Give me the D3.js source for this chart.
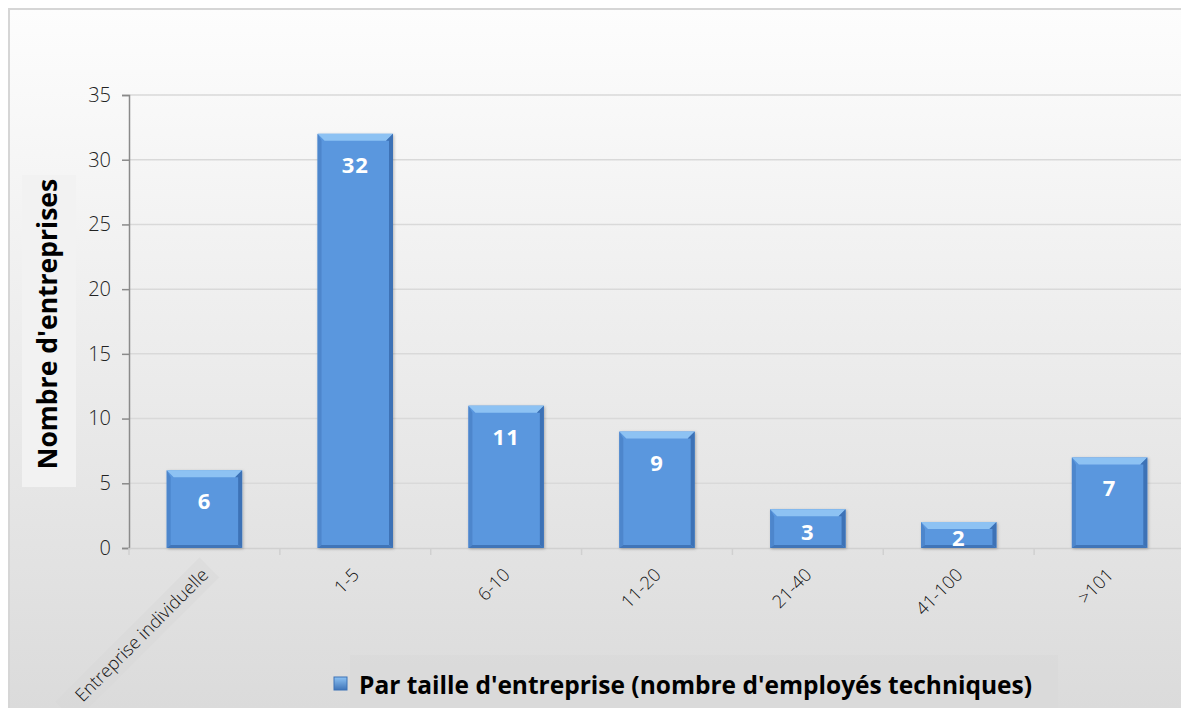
<!DOCTYPE html>
<html>
<head>
<meta charset="utf-8">
<script src="https://cdn.jsdelivr.net/npm/d3@7"></script>
<style>
	body { margin: 0; background: #fff; }
	svg { display: block; }
	text { font-family: "Open Sans", Lato, sans-serif; }
</style>
</head>
<body>
<svg id="chart" width="1181" height="708"></svg>
<script>
var categories = ["Entreprise individuelle", "1-5", "6-10", "11-20", "21-40", "41-100", ">101"];
var values = [6, 32, 11, 9, 3, 2, 7];
var y_ticks = [0, 5, 10, 15, 20, 25, 30, 35];
var series_name = "Par taille d'entreprise (nombre d'employés techniques)";
var y_title = "Nombre d'entreprises";

var svg = d3.select("#chart");
var defs = svg.append("defs");

// background gradient of the chart area
var bg = defs.append("linearGradient").attr("id", "bg_grad")
	.attr("x1", 0).attr("y1", 0).attr("x2", 0).attr("y2", 1);
bg.append("stop").attr("offset", "0%").attr("stop-color", "#fdfdfd");
bg.append("stop").attr("offset", "100%").attr("stop-color", "#dadada");

var shadow = defs.append("filter").attr("id", "shadow")
	.attr("x", "-20%").attr("y", "-20%").attr("width", "140%").attr("height", "140%");
shadow.append("feDropShadow").attr("dx", 1).attr("dy", 1).attr("stdDeviation", 1.5)
	.attr("flood-color", "#000").attr("flood-opacity", 0.25);

svg.append("rect")
	.attr("x", 9).attr("y", 9).attr("width", 1200).attr("height", 720)
	.attr("fill", "url(#bg_grad)")
	.attr("stroke", "#d6d6d6").attr("stroke-width", 2);

var x = d3.scaleBand().domain(categories).range([129, 1185]).paddingInner(0.5).paddingOuter(0.25);
var y = d3.scaleLinear().domain([0, 35]).range([548, 95]);

// gridlines
svg.append("g").selectAll("line").data(y_ticks.slice(1)).enter()
	.append("line")
	.attr("x1", 129).attr("x2", 1181)
	.attr("y1", function(d){ return y(d); })
	.attr("y2", function(d){ return y(d); })
	.attr("stroke", "#d9d9d9").attr("stroke-width", 1.5);

// y axis
var y_axis = svg.append("g").attr("transform", "translate(129,0)")
	.call(d3.axisLeft(y).tickValues(y_ticks).tickSize(7).tickPadding(11));
y_axis.select(".domain").attr("stroke", "#8a8a8a").attr("stroke-width", 1.5);
y_axis.selectAll(".tick line").attr("stroke", "#8a8a8a").attr("stroke-width", 1.5);
y_axis.selectAll(".tick text")
	.attr("font-family", "'Open Sans', sans-serif").attr("font-weight", 300)
	.attr("font-size", 20).attr("fill", "#222");

// x axis
var x_axis = svg.append("g").attr("transform", "translate(0,548)")
	.call(d3.axisBottom(x).tickSize(0).tickPadding(0));
x_axis.select(".domain").attr("stroke", "#d0d0d0").attr("stroke-width", 1.5);
x_axis.selectAll(".tick text").remove();

// small tick marks between categories
svg.append("g").selectAll("line").data(categories).enter()
	.append("line")
	.attr("x1", function(d){ return x(d) - x.step() * 0.25; })
	.attr("x2", function(d){ return x(d) - x.step() * 0.25; })
	.attr("y1", 548).attr("y2", 555)
	.attr("stroke", "#d0d0d0").attr("stroke-width", 1.5);

// rotated category labels
var cat_labels = svg.append("g").selectAll("g").data(categories).enter()
	.append("g")
	.attr("transform", function(d){
		return "translate(" + (x(d) + x.bandwidth() / 2 + 5) + ",576) rotate(-45)";
	});
cat_labels.filter(function(d, i){ return i == 0; })
	.append("rect")
	.attr("x", -198).attr("y", -20).attr("width", 204).attr("height", 28)
	.attr("fill", "#d8d8d8").attr("opacity", 0.45);
cat_labels.append("text")
	.attr("text-anchor", "end")
	.attr("font-weight", 300).attr("font-size", 18).attr("fill", "#111")
	.text(function(d){ return d; });

// bars with bevel
var bars = svg.append("g").selectAll("g").data(values).enter()
	.append("g")
	.attr("filter", "url(#shadow)");

bars.append("rect")
	.attr("x", function(d, i){ return x(categories[i]); })
	.attr("y", function(d){ return y(d); })
	.attr("width", x.bandwidth())
	.attr("height", function(d){ return y(0) - y(d); })
	.attr("fill", "#5a97de");

function bevel_path(d, i, side){
	var x0 = x(categories[i]), x1 = x0 + x.bandwidth();
	var y0 = y(d), y1 = y(0), b = 7;
	if(side == "top")
		return "M" + x0 + "," + y0 + "L" + x1 + "," + y0 + "L" + (x1 - b) + "," + (y0 + b) + "L" + (x0 + b) + "," + (y0 + b) + "Z";
	if(side == "left")
		return "M" + x0 + "," + y0 + "L" + (x0 + 4) + "," + (y0 + b) + "L" + (x0 + 4) + "," + (y1 - 3) + "L" + x0 + "," + y1 + "Z";
	if(side == "right")
		return "M" + x1 + "," + y0 + "L" + (x1 - b) + "," + (y0 + b) + "L" + (x1 - 4) + "," + (y0 + b) + "L" + (x1 - 4) + "," + (y1 - 3) + "L" + x1 + "," + y1 + "Z";
	return "M" + x0 + "," + y1 + "L" + (x0 + 4) + "," + (y1 - 3) + "L" + (x1 - 4) + "," + (y1 - 3) + "L" + x1 + "," + y1 + "Z";
}

bars.append("path").attr("d", function(d, i){ return bevel_path(d, i, "top"); }).attr("fill", "#8dc2f3");
bars.append("path").attr("d", function(d, i){ return bevel_path(d, i, "left"); }).attr("fill", "#4d86cc");
bars.append("path").attr("d", function(d, i){ return bevel_path(d, i, "right"); }).attr("fill", "#3d72b6");
bars.append("path").attr("d", function(d, i){ return bevel_path(d, i, "bottom"); }).attr("fill", "#3f74b8");

// value labels
svg.append("g").selectAll("text").data(values).enter()
	.append("text")
	.attr("x", function(d, i){ return x(categories[i]) + x.bandwidth() / 2; })
	.attr("y", function(d){
		var top = y(d), mid = (y(d) + y(0)) / 2;
		return Math.min(top + 31, mid + 3) + 8;
	})
	.attr("text-anchor", "middle")
	.attr("font-weight", 700).attr("font-size", 22).attr("fill", "#fff")
	.attr("letter-spacing", 1)
	.text(function(d){ return d; });

// y axis title
svg.append("rect").attr("x", 22).attr("y", 175).attr("width", 54).attr("height", 312)
	.attr("fill", "#f2f2f2");
svg.append("text")
	.attr("transform", "translate(57,324) rotate(-90)")
	.attr("text-anchor", "middle")
	.attr("font-weight", 700).attr("font-size", 26.5).attr("fill", "#000")
	.text(y_title);

// legend
svg.append("rect").attr("x", 350).attr("y", 655).attr("width", 708).attr("height", 53)
	.attr("fill", "#d9d9d9").attr("opacity", 0.6);
var leg_grad = defs.append("linearGradient").attr("id", "leg_grad")
	.attr("x1", 0).attr("y1", 0).attr("x2", 0).attr("y2", 1);
leg_grad.append("stop").attr("offset", "0%").attr("stop-color", "#8dc2f3");
leg_grad.append("stop").attr("offset", "100%").attr("stop-color", "#3f74b8");
svg.append("rect").attr("x", 334).attr("y", 677).attr("width", 13).attr("height", 13)
	.attr("fill", "url(#leg_grad)").attr("stroke", "#3d72b6").attr("stroke-width", 1);
svg.append("text")
	.attr("x", 359).attr("y", 694)
	.attr("font-weight", 700).attr("font-size", 24.5).attr("fill", "#000")
	.text(series_name);
</script>
</body>
</html>
